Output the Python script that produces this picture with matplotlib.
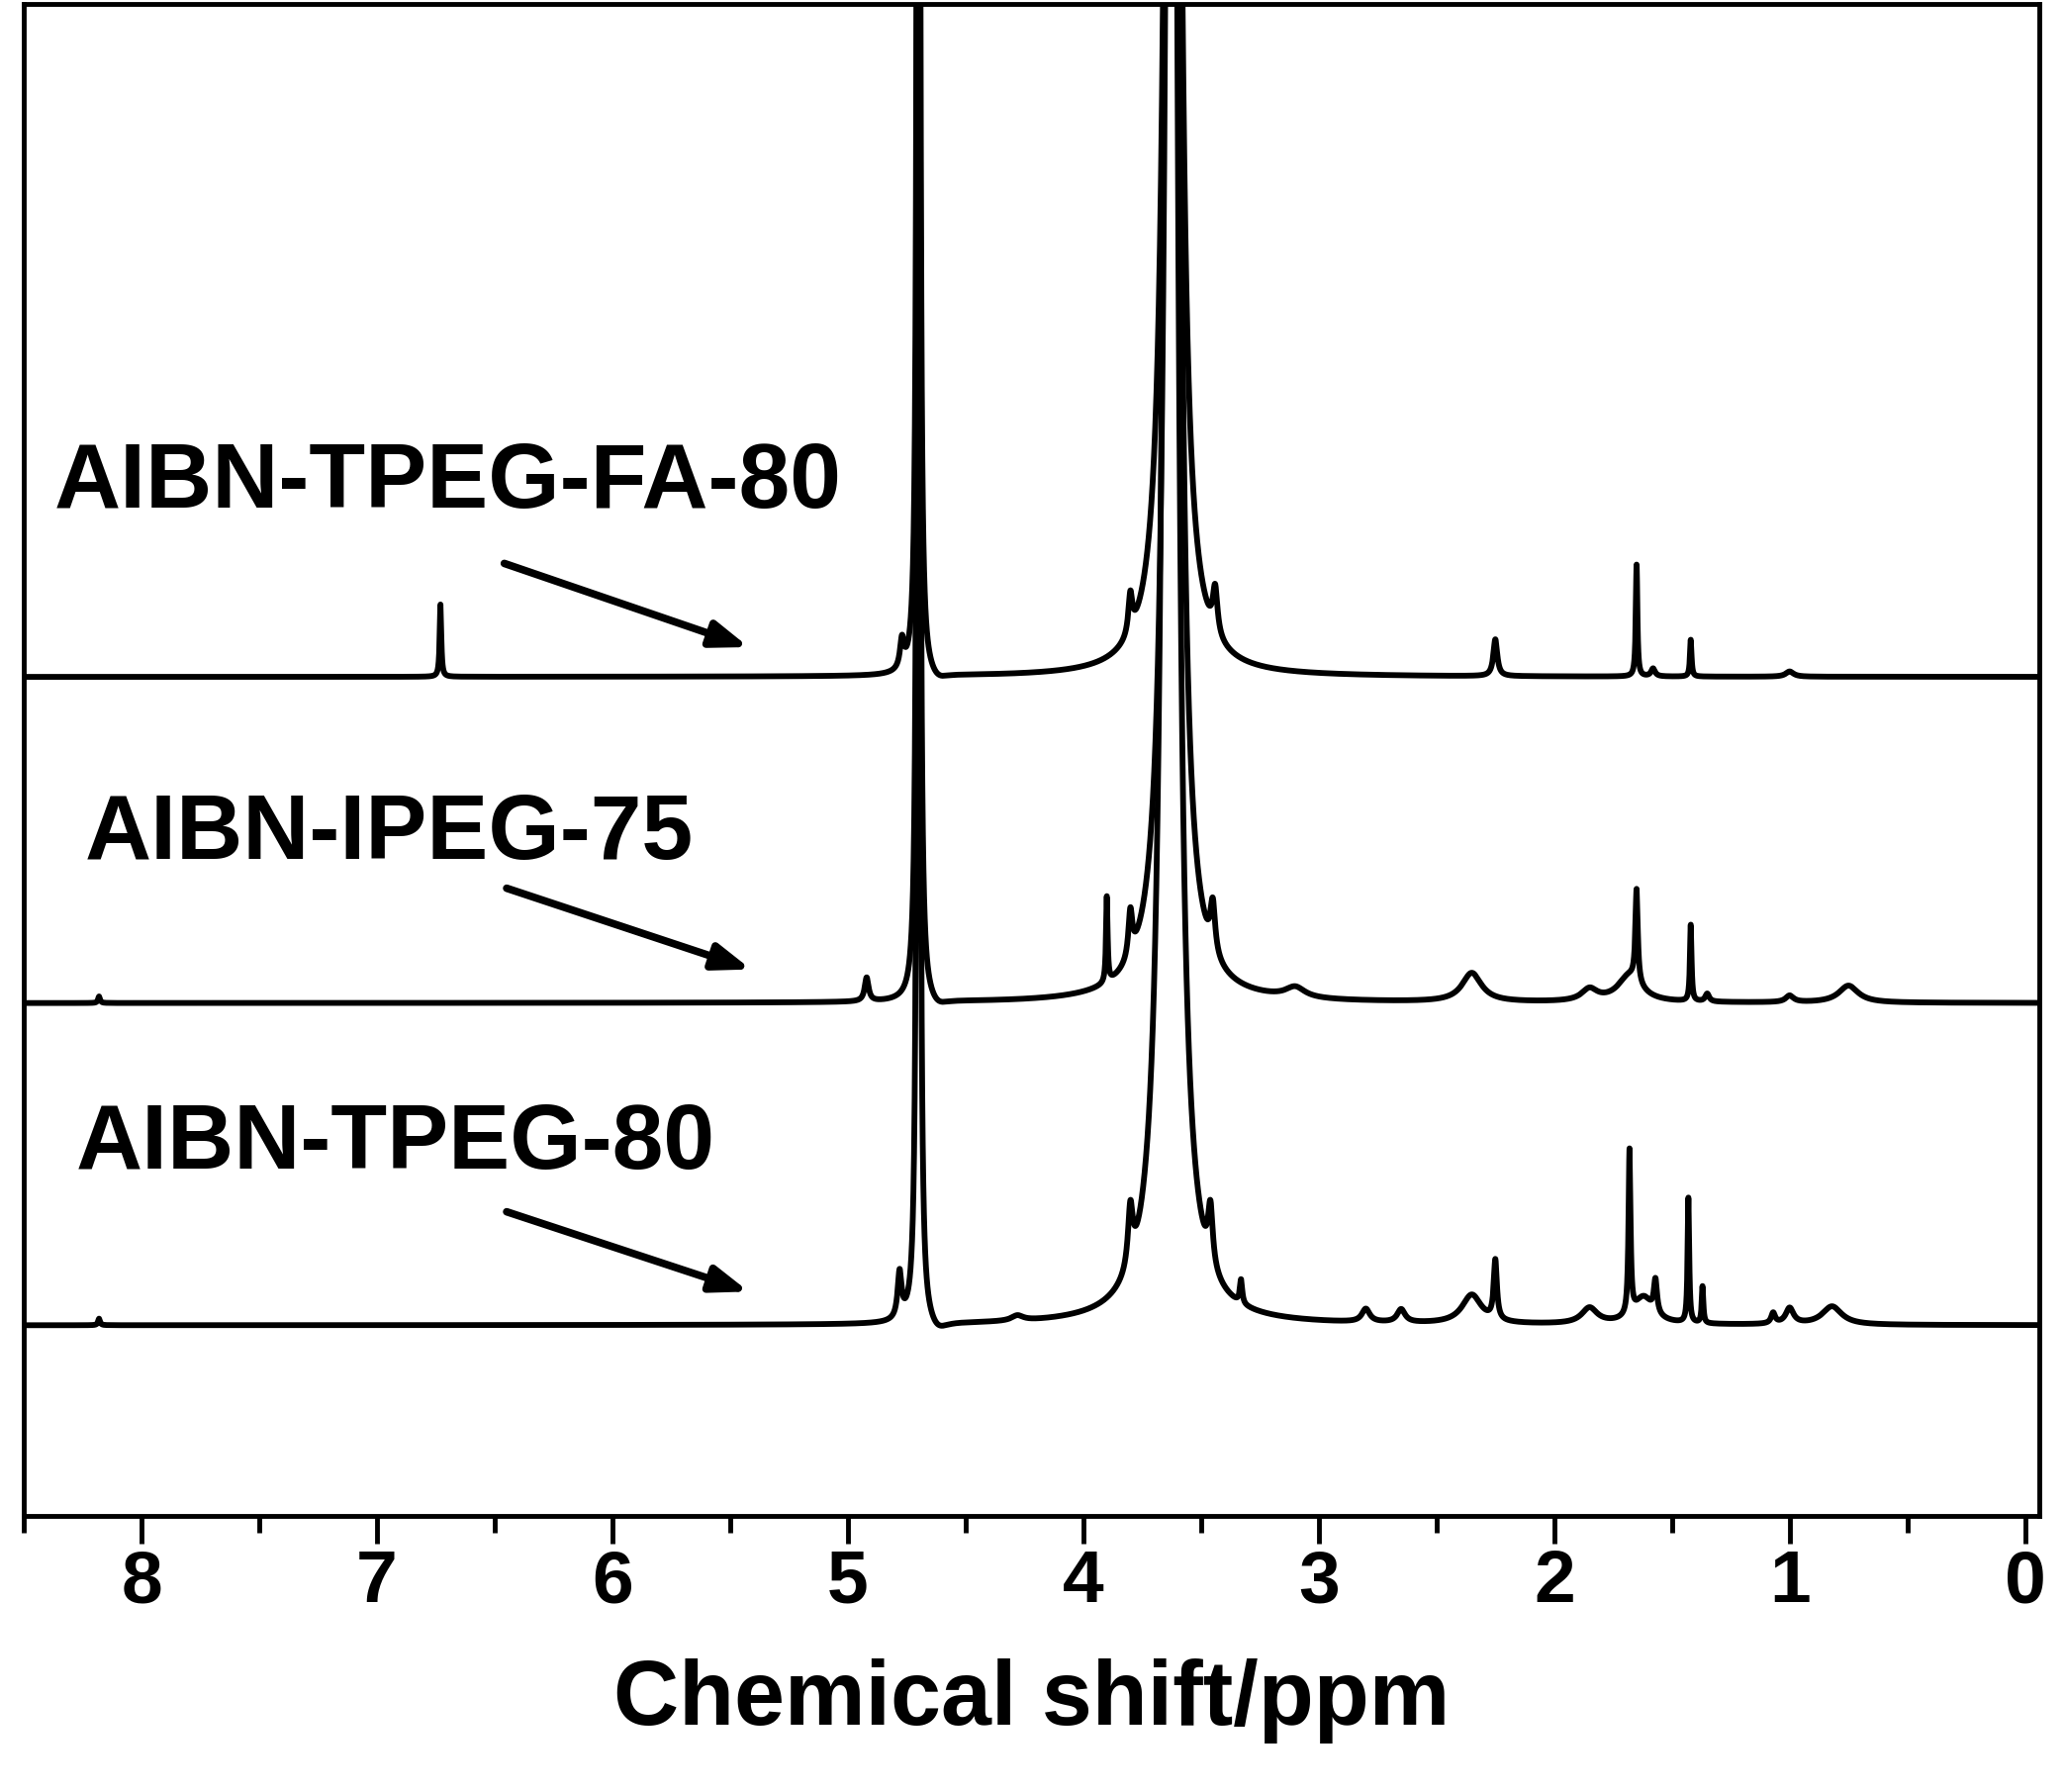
import numpy as np
import matplotlib
matplotlib.use("Agg")
import matplotlib.pyplot as plt

labels = ["AIBN-TPEG-FA-80", "AIBN-IPEG-75", "AIBN-TPEG-80"]
baselines = [638, 390, 145]
# peak lists: (position ppm, height, half-width ppm)
peaks_fa = [(6.73, 55, 0.004), (4.77, 22, 0.01), (4.70, 3000, 0.004), (3.62, 3000, 0.018),
            (3.62, 60, 0.06), (3.80, 30, 0.01), (3.44, 35, 0.012), (2.25, 28, 0.01),
            (1.65, 85, 0.004), (1.42, 28, 0.004), (1.58, 6, 0.01), (1.0, 4, 0.02)]
peaks_ipeg = [(8.18, 5, 0.005), (4.92, 18, 0.01), (4.70, 3000, 0.004), (3.90, 65, 0.004),
              (3.80, 35, 0.01), (3.62, 3000, 0.018), (3.62, 60, 0.07), (3.45, 38, 0.012),
              (3.10, 8, 0.05), (2.35, 22, 0.05), (1.85, 9, 0.04), (1.65, 70, 0.006),
              (1.68, 20, 0.06), (1.42, 58, 0.004), (1.35, 6, 0.01), (1.0, 5, 0.02), (0.75, 13, 0.05)]
peaks_tpeg = [(8.18, 5, 0.005), (4.78, 35, 0.01), (4.70, 3000, 0.004), (3.63, 3000, 0.02),
              (3.63, 50, 0.08), (3.80, 45, 0.012), (3.46, 45, 0.012), (3.33, 18, 0.006),
              (4.28, 4, 0.03), (2.80, 10, 0.02), (2.65, 10, 0.02), (2.35, 22, 0.05),
              (2.25, 45, 0.008), (1.85, 12, 0.04), (1.68, 125, 0.005), (1.62, 20, 0.05),
              (1.57, 25, 0.008), (1.43, 95, 0.004), (1.37, 28, 0.004), (1.0, 12, 0.02),
              (1.07, 8, 0.01), (0.82, 14, 0.05)]
dips = [(4.62, -6, 0.05), (4.62, -6, 0.05), (4.62, -8, 0.05)]

x = np.linspace(-0.1, 8.6, 40000)
def spec(peaks, base, dip):
    y = np.full_like(x, float(base))
    for p, h, w in peaks + [dip]:
        y += h * w**2 / ((x - p)**2 + w**2)
    return y

fig = plt.figure(figsize=(20.86, 18.11), dpi=100)
ax = fig.add_axes([0.0115, 0.154, 0.9765, 0.844])
for pk, b, d in zip([peaks_fa, peaks_ipeg, peaks_tpeg], baselines, dips):
    ax.plot(x, spec(pk, b, d), color="black", lw=4.2)
ax.set_xlim(8.5, -0.06)
ax.set_ylim(0, 1150)
ax.set_yticks([])
ax.set_xticks(range(0, 9))
ax.set_xticks(np.arange(0.5, 8.6, 1.0), minor=True)
ax.tick_params(axis="x", which="major", length=20, width=3.5, direction="out", labelsize=54, pad=4)
ax.tick_params(axis="x", which="minor", length=12, width=3.5, direction="out")
for lab in ax.get_xticklabels():
    lab.set_fontweight("bold"); lab.set_family("Liberation Sans")
for s in ax.spines.values():
    s.set_linewidth(3.5)
ax.set_xlabel("Chemical shift/ppm", fontsize=66, fontweight="bold", family="Liberation Sans", labelpad=30)

texts = [(8.37, 785), (8.24, 518), (8.28, 282)]
arrows = [((6.47, 725), (5.41, 660)), ((6.46, 478), (5.40, 415)), ((6.46, 232), (5.41, 170))]
for lab, (tx, ty), (s, e) in zip(labels, texts, arrows):
    ax.text(tx, ty, lab, fontsize=67, fontweight="bold", family="Liberation Sans", va="center", ha="left")
    ax.annotate("", xy=e, xytext=s, arrowprops=dict(arrowstyle="-|>,head_length=2.2,head_width=0.8", lw=5.5, color="black"))
fig.savefig("out.png", dpi=100)
